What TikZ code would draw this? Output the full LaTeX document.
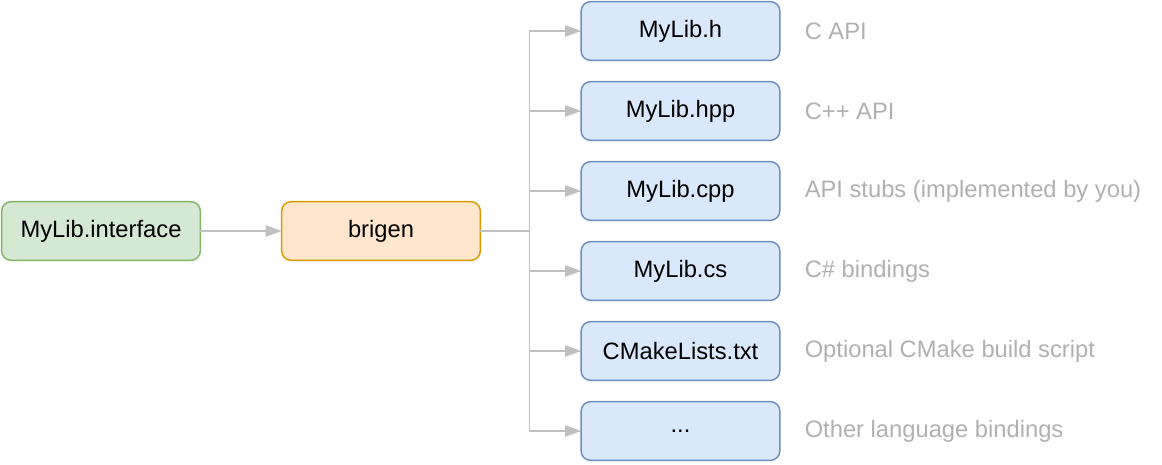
\documentclass[tikz,border=0pt]{standalone}
\usepackage{fontspec}
\setmainfont{Liberation Sans}
\usepackage{tikz}
\usetikzlibrary{positioning,arrows.meta}

\definecolor{ifacefill}{HTML}{D5E8D4}
\definecolor{ifacedraw}{HTML}{82B366}
\definecolor{genfill}{HTML}{FFE6CC}
\definecolor{gendraw}{HTML}{D79B00}
\definecolor{outfill}{HTML}{DAE8FC}
\definecolor{outdraw}{HTML}{6C8EBF}
\definecolor{linkgray}{HTML}{C0C0C0}
\definecolor{notegray}{HTML}{B0B0B0}

\tikzset{
  box/.style={rectangle, rounded corners=7pt, line width=1.1pt,
    minimum width=149pt, minimum height=44pt, inner sep=0pt, outer sep=0pt,
    font=\fontsize{17.8}{21}\selectfont},
  ifacebox/.style={box, fill=ifacefill, draw=ifacedraw},
  genbox/.style={box, fill=genfill, draw=gendraw},
  outbox/.style={box, fill=outfill, draw=outdraw},
  note/.style={inner sep=0pt, text=notegray, font=\fontsize{17.8}{21}\selectfont},
  link/.style={draw=linkgray, line width=1.1pt},
  arr/.style={link, -{Triangle[length=12pt, width=8.5pt]}}
}

\begin{document}
\begin{tikzpicture}[x=0.75pt, y=-0.75pt]
            \useasboundingbox (0,0) rectangle (1162,464);

            \node [ifacebox] (iface) at (101,231) {MyLib.interface};
            \node [genbox, right=61pt of iface] (gen) {brigen};

            \node [outbox] (h) at (680.5,31) {MyLib.h};
            \node [outbox, below=16pt of h] (hpp) {MyLib.hpp};
            \node [outbox, below=16pt of hpp] (cpp) {MyLib.cpp};
            \node [outbox, below=16pt of cpp] (cs) {MyLib.cs};
            \node [outbox, below=16pt of cs] (cmake) {CMakeLists.txt};
            \node [outbox, below=16pt of cmake] (dots) {...};

            \node [note, right=18.5pt of h] (hnote) {C API};
            \node [note, right=18.5pt of hpp] (hppnote) {C++ API};
            \node [note, right=18.5pt of cpp] (cppnote) {API stubs (implemented by you)};
            \node [note, right=18.5pt of cs] (csnote) {C\# bindings};
            \node [note, right=18.5pt of cmake] (cmakenote) {Optional CMake build script};
            \node [note, right=18.5pt of dots] (dotsnote) {Other language bindings};

            \draw [arr] (iface) -- (gen);

            \draw [link] (gen.east) -- ++(49,0) coordinate (split);
            \draw [link] (split |- h) -- (split |- dots);
            \foreach \n in {h,hpp,cpp,cs,cmake,dots}
                \draw [arr] (split |- \n) -- (\n.west);
        \end{tikzpicture}
\end{document}
